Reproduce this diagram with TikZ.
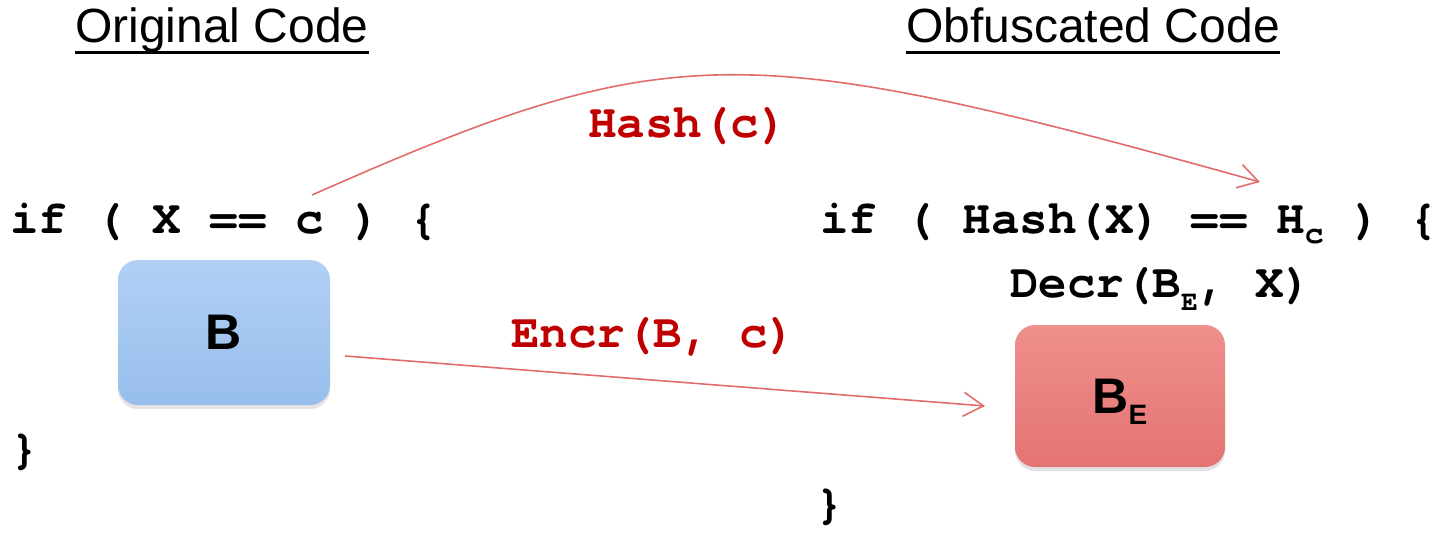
\documentclass[tikz,border=0pt]{standalone}
\usepackage{fontspec}
\setmainfont{Liberation Sans}
\newfontfamily\codefont{texgyrecursor-bold.otf}
\usetikzlibrary{arrows.meta,shadows}

\definecolor{labelred}{RGB}{192,0,0}
\definecolor{arrowred}{RGB}{226,108,108}
\definecolor{blueface}{RGB}{158,196,240}
\definecolor{bluetop}{RGB}{176,208,245}
\definecolor{bluebottom}{RGB}{152,190,236}
\definecolor{redface}{RGB}{232,122,120}
\definecolor{redtop}{RGB}{238,144,140}
\definecolor{redbottom}{RGB}{228,116,114}

\tikzset{
  code/.style={anchor=base west, inner sep=0pt,
    font=\codefont\fontsize{47.5}{57}\selectfont},
  redlabel/.style={code, text=labelred},
  heading/.style={anchor=base west, inner sep=0pt,
    font=\fontsize{48}{58}\selectfont},
  block/.style={rounded corners=20pt, inner sep=0pt, text depth=0pt,
    font=\bfseries\fontsize{50}{60}\selectfont,
    drop shadow={shadow xshift=0pt, shadow yshift=-4pt, opacity=0.22}},
  blueblock/.style={block, top color=bluetop, middle color=blueface, bottom color=bluebottom},
  redblock/.style={block, top color=redtop, middle color=redface, bottom color=redbottom},
  flow/.style={draw=arrowred, line width=1.6pt,
    -{Straight Barb[length=20pt,width=24pt,line width=1.6pt]}},
}

\begin{document}
\begin{tikzpicture}[x=1pt,y=-1pt]
\useasboundingbox (0,0) rectangle (1449,533);

% column headings
\node[heading] (orig) at (75,42) {Original Code};
\node[heading] (obf) at (906,42) {Obfuscated Code};
\draw[line width=3pt] ([yshift=-10pt]orig.base west) -- ([yshift=-10pt]orig.base east);
\draw[line width=3pt] ([yshift=-10pt]obf.base west) -- ([yshift=-10pt]obf.base east);

% original code
\node[code] (cond) at (10,233) {if ( X == c ) \{};
\node[blueblock, minimum width=212pt, minimum height=145pt] (B) at (224,332.5) {B};
\node[code] (close) at (10,463) {\}};

% obfuscated code
\node[code] (hcond) at (820,233)
  {if ( Hash(X) == H\raisebox{-10pt}{\fontsize{32}{32}\selectfont c} ) \{};
\node[code] (decr) at (1010,297)
  {Decr(B\raisebox{-13pt}{\fontsize{28}{28}\selectfont E}, X)};
\node[redblock, minimum width=210pt, minimum height=142pt] (BE) at (1120,396)
  {B\raisebox{-11pt}{\fontsize{28}{28}\selectfont E}};
\node[code] (hclose) at (815,518) {\}};

% transformations
\coordinate (hashFrom) at (312,195);
\coordinate (hashTo) at (1260,182);
\draw[flow] (hashFrom) .. controls (670,37) and (740,37) .. (hashTo);
\node[redlabel] (hashlbl) at (588,137) {Hash(c)};

\coordinate (encrFrom) at (345,356);
\coordinate (encrTo) at (985,406);
\draw[flow] (encrFrom) -- (encrTo);
\node[redlabel] (encrlbl) at (511,347) {Encr(B, c)};
\end{tikzpicture}
\end{document}
